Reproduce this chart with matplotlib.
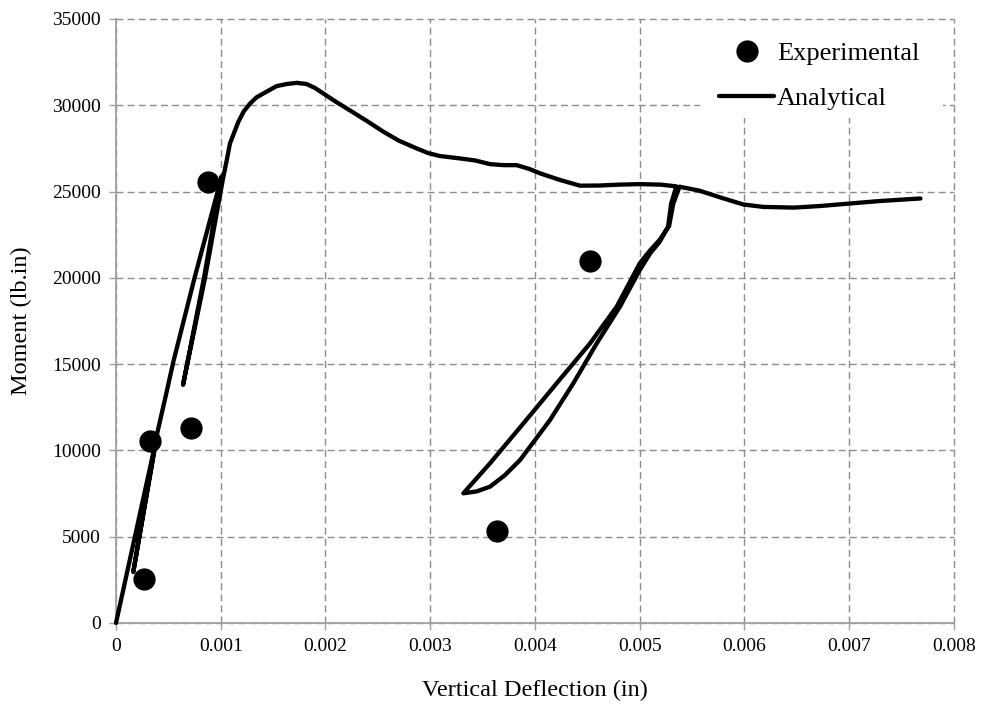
import numpy as np
import matplotlib
matplotlib.use("Agg")
import matplotlib.pyplot as plt
from matplotlib.patches import Rectangle

# Experimental points (deflection in, moment lb.in)
exp_x = [0.00027, 0.000325, 0.000713, 0.000881, 0.00364, 0.004525]
exp_y = [2550, 10560, 11280, 25570, 5350, 20970]

# Analytical curve, traced along the load path (including the two unload/reload loops)
ana_x = [0.0, 0.00039, 0.000165, 0.00027, 0.00039, 0.00048, 0.00055, 0.00075,
         0.00097, 0.00101, 0.00084, 0.00064, 0.00085, 0.00102, 0.00106, 0.001088,
         0.001168, 0.00122, 0.00128, 0.00134, 0.001406, 0.001533, 0.00163, 0.001725,
         0.00182, 0.0019, 0.00198, 0.0021,
         0.002234, 0.0024, 0.002552, 0.0027, 0.00287, 0.00298, 0.00309, 0.003284,
         0.00343, 0.00357, 0.0037, 0.003825, 0.00395,
         0.00405, 0.00425, 0.00443, 0.00462, 0.0048, 0.005, 0.0052, 0.00535,
         0.0053, 0.00527, 0.00519, 0.0051, 0.005, 0.004811, 0.004589,
         0.004366, 0.004143, 0.003857, 0.00371, 0.00357, 0.00344, 0.003316,
         0.00357, 0.00389, 0.004207, 0.004525, 0.00478, 0.005, 0.0051,
         0.00519, 0.00528, 0.00532, 0.00538,
         0.00557, 0.0058, 0.00599, 0.00618, 0.00647, 0.00672, 0.00701,
         0.00729, 0.00768]
ana_y = [0, 10800, 2950, 6700, 10900, 13300, 15200, 20000,
         24990, 25900, 20000, 13800, 20000, 25700, 26900, 27790,
         29040, 29650, 30100, 30450, 30680, 31110, 31230, 31300,
         31230, 31000, 30680, 30200,
         29700, 29070, 28470, 27950, 27500, 27230, 27060, 26920,
         26800, 26590, 26530, 26530, 26300,
         26050, 25650, 25340, 25350, 25400, 25430, 25400, 25300,
         24310, 22960, 22090, 21420, 20450, 18330, 16200,
         13890, 11760, 9440, 8550, 7897, 7620, 7515,
         9250, 11570, 13890, 16200, 18330, 20840, 21600,
         22200, 23000, 24300, 25280,
         25050, 24600, 24250, 24110, 24070, 24160, 24310,
         24450, 24600]

x_ticks = [0, 0.001, 0.002, 0.003, 0.004, 0.005, 0.006, 0.007, 0.008]
x_tick_labels = ['0', '0.001', '0.002', '0.003', '0.004', '0.005', '0.006', '0.007', '0.008']
y_ticks = [0, 5000, 10000, 15000, 20000, 25000, 30000, 35000]

plt.rcParams['font.family'] = ['Liberation Serif', 'DejaVu Serif']

fig = plt.figure(figsize=(9.83, 7.11), dpi=100)
ax = fig.add_axes([0.118, 0.1238, 0.8525, 0.8495])

grid_col = '#8c8c8c'
ax.set_xlim(0, 0.008)
ax.set_ylim(0, 35000)
ax.set_xticks(x_ticks)
ax.set_xticklabels(x_tick_labels)
ax.set_yticks(y_ticks)
ax.grid(True, color=grid_col, linestyle=(0, (5, 3)), linewidth=1.0)
ax.set_axisbelow(True)
for gl in ax.get_xgridlines() + ax.get_ygridlines():
    gl.set_clip_on(False)

for side in ['top', 'right']:
    ax.spines[side].set_visible(False)
for side in ['left', 'bottom']:
    ax.spines[side].set_color('#a0a0a0')
    ax.spines[side].set_linewidth(1.3)
    ax.spines[side].set_zorder(3)
ax.tick_params(direction='out', length=5, width=1, color='#a0a0a0',
               labelsize=14, pad=6)

ax.plot(ana_x, ana_y, color='black', linewidth=3.1, solid_joinstyle='round',
        solid_capstyle='round', label='Analytical', zorder=4, clip_on=False)
ax.plot(exp_x, exp_y, linestyle='none', marker='o', markersize=15,
        color='black', label='Experimental', zorder=5)

# white box behind the legend (no frame in the original)
ax.add_patch(Rectangle((0.697, 0.836), 0.29, 0.161, transform=ax.transAxes,
                       facecolor='white', edgecolor='none', zorder=6))
handles, labels = ax.get_legend_handles_labels()
leg = ax.legend(handles[::-1], labels[::-1], loc='upper left',
                bbox_to_anchor=(0.7196, 0.962), frameon=False, fontsize=19,
                borderpad=0, borderaxespad=0, handlelength=2.1,
                handletextpad=0.1, labelspacing=0.8)
leg.set_zorder(7)

ax.set_xlabel('Vertical Deflection (in)', fontsize=17.5, labelpad=18)
ax.set_ylabel('Moment (lb.in)', fontsize=17.5, labelpad=14)

fig.savefig('out.png', dpi=100)
